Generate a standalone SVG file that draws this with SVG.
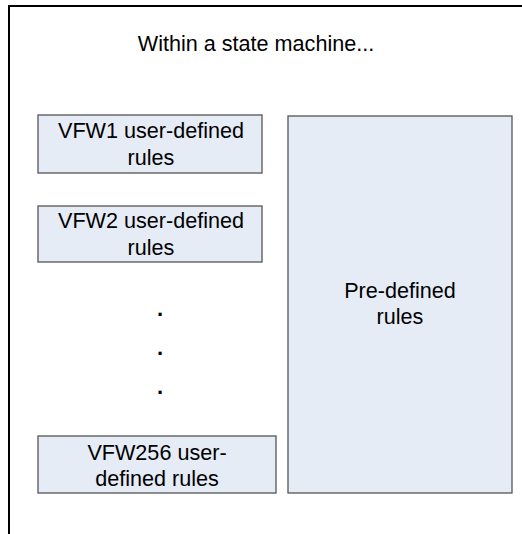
<svg xmlns="http://www.w3.org/2000/svg" width="522" height="534" viewBox="0 0 522 534">
  <style>
    .frame { fill: #ffffff; stroke: #000000; stroke-width: 2; }
    .box { fill: #e6ecf6; stroke: #555555; stroke-width: 1.3; }
    .label { font-family: "Liberation Sans", Arial, sans-serif; font-size: 21.6px; fill: #000000; text-anchor: middle; }
    .dot { font-family: "Liberation Sans", Arial, sans-serif; font-size: 22px; font-weight: bold; fill: #000000; text-anchor: middle; }
  </style>
  <rect width="522" height="534" fill="#ffffff"/>

  <!-- enclosing state machine frame (runs past the right and bottom edges) -->
  <g id="state-machine">
    <rect class="frame" x="9" y="6" width="530" height="545"/>
    <text class="label" x="256" y="51">Within a state machine...</text>
  </g>

  <g id="vfw1">
    <rect class="box" x="38" y="115" width="224" height="58"/>
    <text class="label" x="151" y="137.5">VFW1 user-defined</text>
    <text class="label" x="151" y="164.5">rules</text>
  </g>

  <g id="vfw2">
    <rect class="box" x="38" y="206" width="224" height="56"/>
    <text class="label" x="151" y="228">VFW2 user-defined</text>
    <text class="label" x="151" y="255">rules</text>
  </g>

  <g id="ellipsis">
    <text class="dot" x="160" y="316">.</text>
    <text class="dot" x="160" y="355">.</text>
    <text class="dot" x="160" y="394">.</text>
  </g>

  <g id="vfw256">
    <rect class="box" x="38" y="436" width="238" height="57"/>
    <text class="label" x="157" y="460">VFW256 user-</text>
    <text class="label" x="157" y="486">defined rules</text>
  </g>

  <g id="predefined">
    <rect class="box" x="288" y="116" width="224" height="377"/>
    <text class="label" x="400" y="298">Pre-defined</text>
    <text class="label" x="400" y="324">rules</text>
  </g>

  <g id="connectors"/>
</svg>
